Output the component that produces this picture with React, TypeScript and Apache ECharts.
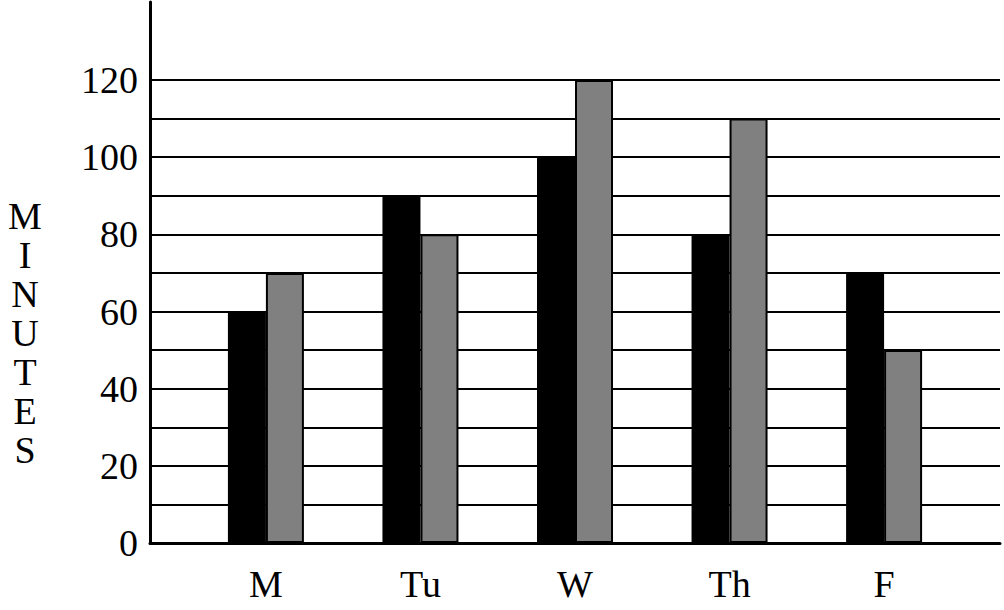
import { useEffect, useRef } from "react";
import * as echarts from "echarts";

const days = ["M", "Tu", "W", "Th", "F"];
const blackMinutes = [60, 90, 100, 80, 70];
const grayMinutes = [70, 80, 120, 110, 50];
const yTickLabels = [0, 20, 40, 60, 80, 100, 120];
const axisTitle = "MINUTES";

const FONT = "'Liberation Serif', 'Times New Roman', serif";
// first day sits 0.75 units right of the axis, one unit per day
const dayOffset = 0.75;

export default function App() {
  const chartRef = useRef<HTMLDivElement>(null);

  useEffect(() => {
    if (!chartRef.current) return;
    const chart = echarts.init(chartRef.current, null, { renderer: "svg" });

    const dayLabel = (v: number) => {
      const i = Math.round(v - dayOffset);
      if (Math.abs(v - dayOffset - i) < 1e-6 && i >= 0 && i < days.length) {
        return days[i];
      }
      return "";
    };

    chart.setOption({
      animation: false,
      backgroundColor: "#ffffff",
      grid: [
        { left: 150, right: 4, top: 2, bottom: 67 },
        { left: 150, right: 4, top: 80, bottom: 67 },
      ],
      graphic: [
        {
          type: "text",
          x: 25,
          y: 196,
          style: {
            text: axisTitle.split("").join("\n"),
            font: `38px ${FONT}`,
            lineHeight: 39,
            fill: "#000",
            textAlign: "center",
            textVerticalAlign: "top",
          },
        },
      ],
      xAxis: [
        {
          gridIndex: 0,
          type: "value",
          min: 0,
          max: 5.5,
          show: false,
        },
        {
          gridIndex: 1,
          type: "value",
          min: 0,
          max: 5.5,
          interval: 0.25,
          axisLine: { show: true, lineStyle: { color: "#000", width: 3 } },
          axisTick: { show: false },
          splitLine: { show: false },
          axisLabel: {
            formatter: dayLabel,
            fontFamily: FONT,
            fontSize: 38,
            color: "#000",
            margin: 22,
          },
        },
      ],
      yAxis: [
        {
          gridIndex: 0,
          type: "value",
          min: 0,
          max: 140,
          axisLine: { show: true, lineStyle: { color: "#000", width: 3 } },
          axisTick: { show: false },
          axisLabel: { show: false },
          splitLine: { show: false },
        },
        {
          gridIndex: 1,
          type: "value",
          min: 0,
          max: 120,
          interval: 10,
          axisLine: { show: false },
          axisTick: { show: false },
          splitLine: { show: true, lineStyle: { color: "#000", width: 2 } },
          axisLabel: {
            formatter: (v: number) =>
              yTickLabels.includes(v) ? String(v) : "",
            fontFamily: FONT,
            fontSize: 38,
            color: "#000",
            margin: 12,
          },
        },
      ],
      series: [
        {
          type: "bar",
          xAxisIndex: 1,
          yAxisIndex: 1,
          barWidth: 38,
          barGap: "0%",
          itemStyle: { color: "#000000", borderColor: "#000", borderWidth: 2 },
          data: blackMinutes.map((v, i) => [i + dayOffset, v]),
        },
        {
          type: "bar",
          xAxisIndex: 1,
          yAxisIndex: 1,
          barWidth: 38,
          barGap: "0%",
          itemStyle: { color: "#808080", borderColor: "#000", borderWidth: 2 },
          data: grayMinutes.map((v, i) => [i + dayOffset, v]),
        },
      ],
    });

    return () => {
      chart.dispose();
    };
  }, []);

  return (
    <div
      ref={chartRef}
      style={{ position: "absolute", left: 0, top: 0, width: 1004, height: 610 }}
    />
  );
}
